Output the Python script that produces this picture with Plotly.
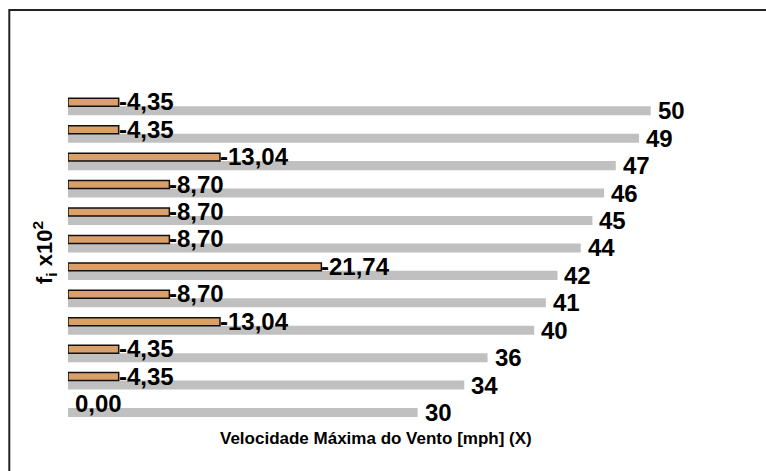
import plotly.graph_objects as go

# Data (bottom to top)
categories = ["30", "34", "36", "40", "41", "42", "44", "45", "46", "47", "49", "50"]
velocidade = [30, 34, 36, 40, 41, 42, 44, 45, 46, 47, 49, 50]
fi_x100 = [0.00, 4.35, 4.35, 13.04, 8.70, 21.74, 8.70, 8.70, 8.70, 13.04, 4.35, 4.35]
fi_labels = ["0,00", "4,35", "4,35", "13,04", "8,70", "21,74", "8,70", "8,70", "8,70", "13,04", "4,35", "4,35"]

W, H = 766, 471
ML, MR, MT, MB = 68, 57, 60, 46
PW, PH = W - ML - MR, H - MT - MB
pitch = 27.43
y_lo = -0.455
y_hi = y_lo + PH / pitch

GRAY_W = 0.33
OR_W = 0.29
FONT = "Arial, Liberation Sans, sans-serif"

fig = go.Figure()
fig.add_trace(go.Bar(
    y=categories, x=velocidade, orientation="h",
    width=GRAY_W, offset=-GRAY_W / 2,
    marker=dict(color="#c0c0c0", line=dict(width=0)),
    hoverinfo="x", showlegend=False,
))
fig.add_trace(go.Bar(
    y=categories, x=fi_x100, orientation="h",
    width=OR_W, offset=GRAY_W / 2,
    marker=dict(color="#db9f69",
                line=dict(color="#111111", width=[1.5 if v > 0 else 0 for v in fi_x100])),
    hoverinfo="x", showlegend=False,
))

annotations = []
or_center_shift = (GRAY_W / 2 + OR_W / 2) * pitch
for i, v in enumerate(velocidade):
    annotations.append(dict(
        x=v, y=i, xref="x", yref="y", text="<b>%d</b>" % v, showarrow=False,
        xanchor="left", yanchor="middle", xshift=5,
        font=dict(family=FONT, size=24, color="#000000"),
    ))
for i, (v, lab) in enumerate(zip(fi_x100, fi_labels)):
    txt = ("-" + lab) if v > 0 else lab
    annotations.append(dict(
        x=v, y=i, xref="x", yref="y", text="<b>%s</b>" % txt, showarrow=False,
        xanchor="left", yanchor="middle",
        xshift=(-2 if v > 0 else 5), yshift=or_center_shift + 0.5,
        font=dict(family=FONT, size=24, color="#000000"),
    ))

# axis titles
annotations.append(dict(
    x=(375.5 - ML) / PW, y=(H - MB - 438) / PH, xref="paper", yref="paper",
    text="<b>Velocidade Máxima do Vento [mph] (X)</b>", showarrow=False,
    xanchor="center", yanchor="middle",
    font=dict(family=FONT, size=17, color="#000000"),
))
annotations.append(dict(
    x=(45 - ML) / PW, y=(H - MB - 253) / PH, xref="paper", yref="paper",
    text="<b>f<sub>i</sub> x10<sup>2</sup></b>", showarrow=False, textangle=-90,
    xanchor="center", yanchor="middle",
    font=dict(family=FONT, size=22, color="#000000"),
))

# outer frame
shapes = [dict(
    type="rect", xref="paper", yref="paper",
    x0=(9.3 - ML) / PW, x1=(W + 20 - ML) / PW,
    y0=(H - MB - (H + 20)) / PH, y1=(H - MB - 10) / PH,
    line=dict(color="#222222", width=2), fillcolor="rgba(0,0,0,0)",
)]

fig.update_layout(
    width=W, height=H,
    margin=dict(l=ML, r=MR, t=MT, b=MB, pad=0),
    paper_bgcolor="white", plot_bgcolor="white",
    barmode="overlay",
    xaxis=dict(range=[0, 55], showgrid=False, zeroline=False, showline=False,
               showticklabels=False, ticks=""),
    yaxis=dict(type="category", categoryorder="array", categoryarray=categories,
               range=[y_lo, y_hi], showgrid=False, zeroline=False, showline=False,
               showticklabels=False, ticks=""),
    annotations=annotations, shapes=shapes,
    font=dict(family=FONT),
)

fig.write_html("out.html", config={"displayModeBar": False},
               post_script="document.body.style.margin='0';document.body.style.overflow='hidden';")
